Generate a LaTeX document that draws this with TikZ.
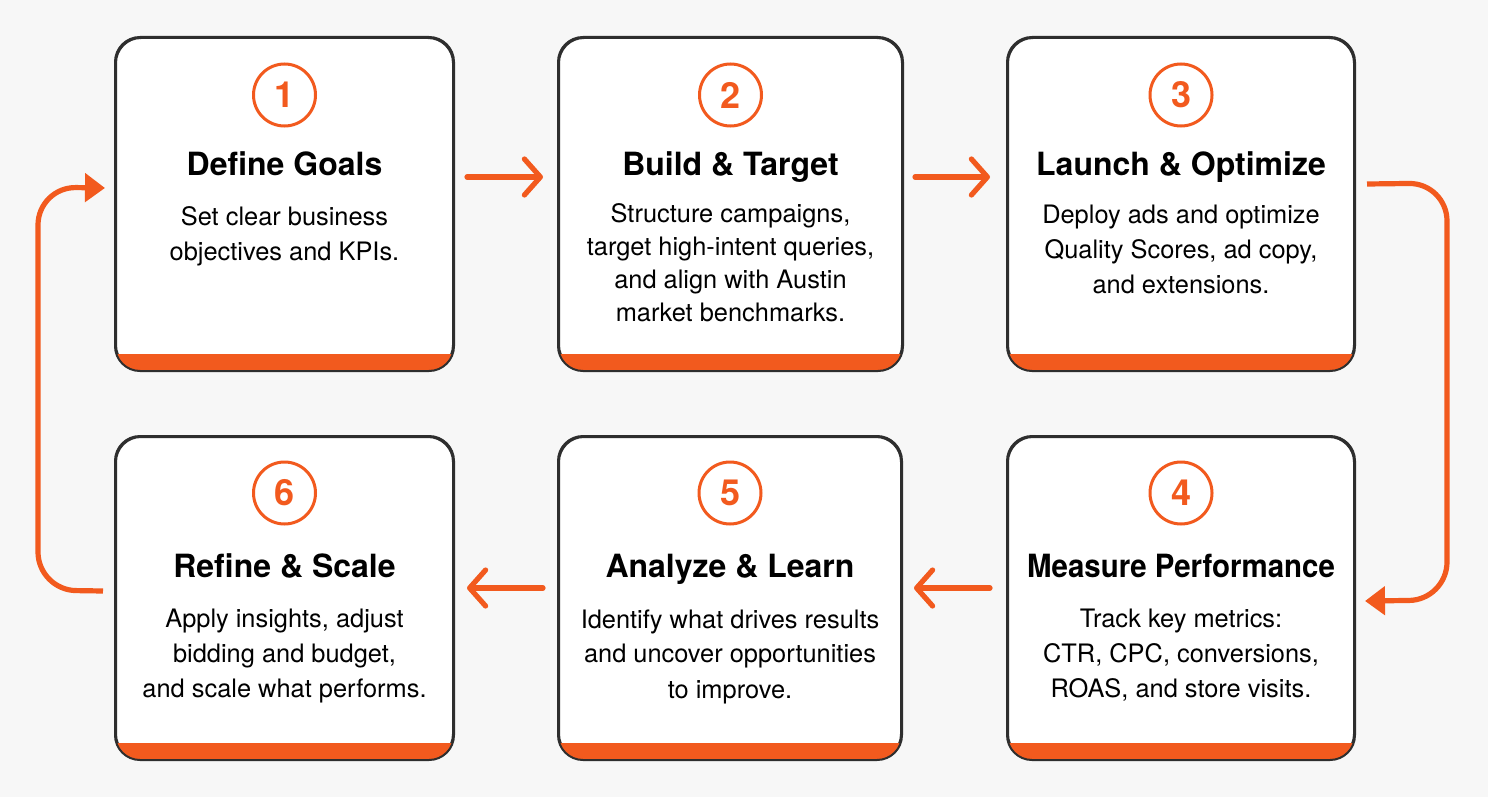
\documentclass[tikz,border=0pt]{standalone}
\usepackage{fontspec}
\setmainfont{TeX Gyre Heros}
\usepackage{graphicx}
\usepackage{xcolor}
\definecolor{adorange}{HTML}{F25A1E}
\definecolor{pagebg}{HTML}{F7F7F7}
\definecolor{edgegray}{HTML}{2E2E2E}
\usetikzlibrary{positioning,arrows.meta,calc}
\tikzset{
  stepbox/.style ={rectangle, rounded corners=12.5pt, draw=edgegray, line width=1pt,
                   fill=white, minimum height=166pt, anchor=north west},
  numring/.style ={circle, draw=adorange, line width=1.5pt, minimum size=31pt,
                   inner sep=0pt, text=adorange, font=\fontsize{18}{18}\selectfont\bfseries},
  steptitle/.style={anchor=base, inner sep=0pt, font=\fontsize{16}{19}\selectfont\bfseries},
  stepdesc/.style={anchor=north, inner sep=0pt, align=center,
                   font=\fontsize{12.7}{17.5}\selectfont},
  flow/.style    ={-{Straight Barb[length=8pt,width=18pt,line cap=round,line join=round]},
                   line width=2.6pt, draw=adorange, line cap=round},
  loopflow/.style={-{Triangle[length=10pt,width=14pt]}, line width=2.6pt,
                   draw=adorange, rounded corners=19pt},
}

\begin{document}
\begin{tikzpicture}[x=0.5pt,y=-0.5pt]
  \fill[pagebg] (0,0) rectangle (1488,797);
  \useasboundingbox (0,0) rectangle (1488,797);

  % top row
  \node[stepbox, minimum width=168.5pt] (s1) at (115,37) {};
  \node[stepbox, minimum width=171.5pt, right=52pt of s1] (s2) {};
  \node[stepbox, minimum width=173pt, right=52pt of s2] (s3) {};
  % bottom row
  \node[stepbox, minimum width=168.5pt, minimum height=161pt] (s6) at (115,436) {};
  \node[stepbox, minimum width=171pt, minimum height=161pt, right=52pt of s6] (s5) {};
  \node[stepbox, minimum width=173pt, minimum height=161pt, right=52.5pt of s5] (s4) {};

  % orange foot of every box
  \foreach \s in {s1,s2,s3,s4,s5,s6}{
    \begin{scope}
      \clip[rounded corners=12.5pt] (\s.south west) rectangle (\s.north east);
      \fill[adorange] (\s.south west) rectangle ($(\s.south east)+(0,-17)$);
    \end{scope}
    \draw[edgegray, line width=1pt, rounded corners=12.5pt]
      (\s.south west) rectangle (\s.north east);
  }

  \node[numring] (n1) at ($(s1.north)+(0,58)$) {1};
  \node[steptitle] (t1) at ($(s1.north)+(0,139)$) {Define Goals};
  \node[stepdesc] (d1) at ($(s1.north)+(0,169)$) {Set clear business\\objectives and KPIs.};

  \node[numring] (n2) at ($(s2.north)+(0,58)$) {2};
  \node[steptitle] (t2) at ($(s2.north)+(0,139)$) {Build \& Target};
  \node[stepdesc, font=\fontsize{12.7}{16.5}\selectfont] (d2) at ($(s2.north)+(0,166)$)
    {Structure campaigns,\\target high-intent queries,\\and align with Austin\\market benchmarks.};

  \node[numring] (n3) at ($(s3.north)+(0,58)$) {3};
  \node[steptitle] (t3) at ($(s3.north)+(0,139)$) {Launch \& Optimize};
  \node[stepdesc] (d3) at ($(s3.north)+(0,168)$)
    {Deploy ads and optimize\\Quality Scores, ad copy,\\and extensions.};

  \node[numring] (n4) at ($(s4.north)+(0,57)$) {4};
  \node[steptitle] (t4) at ($(s4.north)+(0,141)$) {\scalebox{0.92}[1]{Measure Performance}};
  \node[stepdesc] (d4) at ($(s4.north)+(0,173)$)
    {Track key metrics:\\CTR, CPC, conversions,\\ROAS, and store visits.};

  \node[numring] (n5) at ($(s5.north)+(0,57)$) {5};
  \node[steptitle] (t5) at ($(s5.north)+(0,141)$) {Analyze \& Learn};
  \node[stepdesc] (d5) at ($(s5.north)+(0,173)$)
    {Identify what drives results\\and uncover opportunities\\to improve.};

  \node[numring] (n6) at ($(s6.north)+(0,57)$) {6};
  \node[steptitle] (t6) at ($(s6.north)+(0,141)$) {Refine \& Scale};
  \node[stepdesc] (d6) at ($(s6.north)+(0,173)$)
    {Apply insights, adjust\\bidding and budget,\\and scale what performs.};

  % arrows
  \draw[flow] ($(s1.east)+(13,-27)$) -- ($(s2.west)+(-15,-27)$);
  \draw[flow] ($(s2.east)+(12,-27)$) -- ($(s3.west)+(-17,-27)$);
  \draw[flow] ($(s4.west)+(-17,-10)$) -- ($(s5.east)+(12,-10)$);
  \draw[flow] ($(s5.west)+(-15,-10)$) -- ($(s6.east)+(13,-10)$);

  \coordinate (r1) at ($(s3.east)+(12,-20)$);
  \coordinate (r2) at ($(s4.east)+(10,3)$);
  \draw[loopflow] (r1) -- (1447,183) -- (1447,600) -- (r2);
  \coordinate (l1) at ($(s6.west)+(-12,-7)$);
  \coordinate (l2) at ($(s1.west)+(-10,-16)$);
  \draw[loopflow] (l1) -- (38,590) -- (38,187) -- (l2);
\end{tikzpicture}
\end{document}
